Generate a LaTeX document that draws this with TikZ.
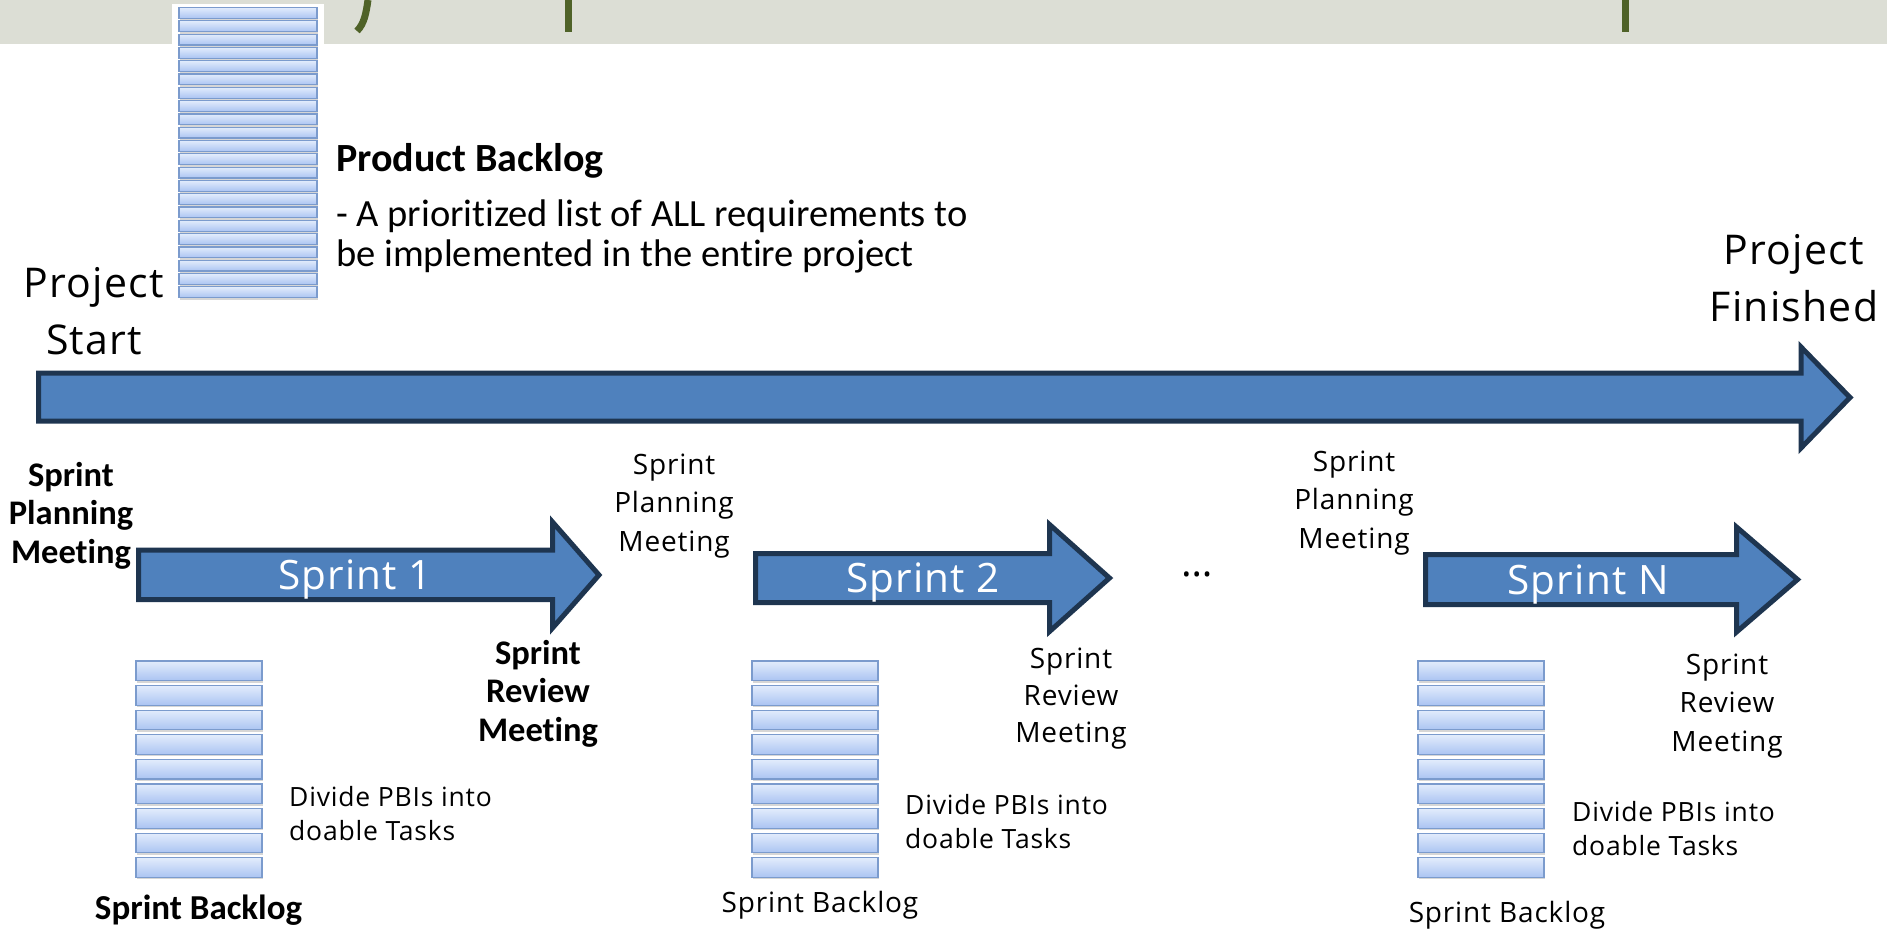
\documentclass[tikz,border=0pt]{standalone}
\usepackage{fontspec}
\setmainfont{Open Sans}[LetterSpace=3.0, Ligatures=NoCommon]
\newfontfamily\narrowfont{Carlito}[Ligatures=NoCommon]
\definecolor{band}{HTML}{DCDED5}
\definecolor{titlegreen}{HTML}{4F6228}
\definecolor{arrowfill}{HTML}{4F81BD}
\definecolor{arrowline}{HTML}{1E3550}
\definecolor{bartop}{HTML}{E2ECFC}
\definecolor{barbot}{HTML}{ABC4F2}
\definecolor{barline}{HTML}{7B9BCD}

\tikzset{
  flow/.style={fill=arrowfill, draw=arrowline, line width=5pt, line join=miter},
  barshadow/.style={fill=black, opacity=0.16},
  barstyle/.style={top color=bartop, bottom color=barbot, draw=barline, line width=1.2pt},
  reg/.style={inner sep=0pt, align=center, font=\fontsize{28}{38.5}\selectfont},
  boldlbl/.style={inner sep=0pt, align=center, font=\narrowfont\bfseries\fontsize{34.5}{38.5}\selectfont},
  bigtxt/.style={inner sep=0pt, align=center, font=\fontsize{41}{57}\selectfont},
  divtxt/.style={inner sep=0pt, align=left, anchor=west, font=\fontsize{26.5}{34}\selectfont},
  arrowtxt/.style={inner sep=0pt, text=white, font=\fontsize{40.5}{44}\selectfont},
}

% one backlog item: left, right, top, height
\newcommand\backlogbar[4]{%
  \fill[barshadow] ({#1+1},{#3+2}) rectangle ({#2+1},{#3+#4+2});
  \shade[barstyle] (#1,#3) rectangle (#2,{#3+#4});
}

\begin{document}
\begin{tikzpicture}[x=1pt, y=-1pt]
\useasboundingbox (0,0) rectangle (1887,929);
\fill[white] (0,0) rectangle (1887,929);

% heading band with the descenders of the cut-off title
\fill[band] (0,0) rectangle (1887,44);
\draw[titlegreen, line width=7pt] (368,0) .. controls (366,14) and (364,24) .. (357,31);
\fill[titlegreen] (565,0) rectangle (572,32);
\fill[titlegreen] (1622,0) rectangle (1629,32);

% product backlog stack
\fill[white] (172,4) rectangle (324,302);
\foreach \i in {0,...,21} {
  \backlogbar{179}{317}{7.5+13.3*\i}{10.8}
}
\node[inner sep=0pt, anchor=west, font=\narrowfont\bfseries\fontsize{40}{47}\selectfont] (pbt) at (336,161) {Product Backlog};
\node[inner sep=0pt, anchor=west, align=left, font=\narrowfont\fontsize{38.5}{39.5}\selectfont] (pbd) at (336,236.5)
  {- A prioritized list of ALL requirements to\\be implemented in the entire project};

% project timeline
\node[bigtxt] (pstart) at (94,311) {Project\\Start};
\node[bigtxt] (pfin) at (1794,278.5) {Project\\Finished};
\draw[flow] (38.5,373) -- (1801,373) -- (1801,347) -- (1850,397.5) -- (1801,448) -- (1801,421) -- (38.5,421) -- cycle;

% sprint arrows
\draw[flow] (138.5,550) -- (552.5,550) -- (552.5,522) -- (599,575) -- (552.5,628) -- (552.5,599.5) -- (138.5,599.5) -- cycle;
\draw[flow] (755.5,553.5) -- (1049.5,553.5) -- (1049.5,524.5) -- (1109.5,578) -- (1049.5,631.5) -- (1049.5,602.5) -- (755.5,602.5) -- cycle;
\draw[flow] (1425.5,554.5) -- (1736.5,554.5) -- (1736.5,527) -- (1797.5,579.5) -- (1736.5,632) -- (1736.5,604.5) -- (1425.5,604.5) -- cycle;
\node[arrowtxt] (s1) at (355,579) {Sprint 1};
\node[arrowtxt] (s2) at (923,582) {Sprint 2};
\node[arrowtxt] (sN) at (1588,584) {Sprint N};
\node[reg, font=\fontsize{40}{44}\selectfont] (dots) at (1197,574) {…};

% meetings
\node[boldlbl] (spm1) at (71,515.7) {Sprint\\Planning\\Meeting};
\node[boldlbl] (srm1) at (538,693.5) {Sprint\\Review\\Meeting};
\node[reg] (spm2) at (674,506) {Sprint\\Planning\\Meeting};
\node[reg, font=\fontsize{28}{37}\selectfont] (srm2) at (1071,698.5) {Sprint\\Review\\Meeting};
\node[reg] (spm3) at (1354,502.6) {Sprint\\Planning\\Meeting};
\node[reg] (srm3) at (1727,706) {Sprint\\Review\\Meeting};

% sprint backlog stacks
\foreach \x in {136,752,1418} {
  \foreach \i in {0,...,8} {
    \backlogbar{\x}{\x+126}{661+24.6*\i}{19.5}
  }
}
\node[divtxt] (div1) at (289,813.5) {Divide PBIs into\\doable Tasks};
\node[divtxt] (div2) at (905,821.5) {Divide PBIs into\\doable Tasks};
\node[divtxt] (div3) at (1572,828.5) {Divide PBIs into\\doable Tasks};
\node[boldlbl, font=\narrowfont\bfseries\fontsize{35}{40}\selectfont] (sb1) at (198.6,910) {Sprint Backlog};
\node[reg] (sb2) at (820,905) {Sprint Backlog};
\node[reg] (sb3) at (1507,915) {Sprint Backlog};
\end{tikzpicture}
\end{document}
